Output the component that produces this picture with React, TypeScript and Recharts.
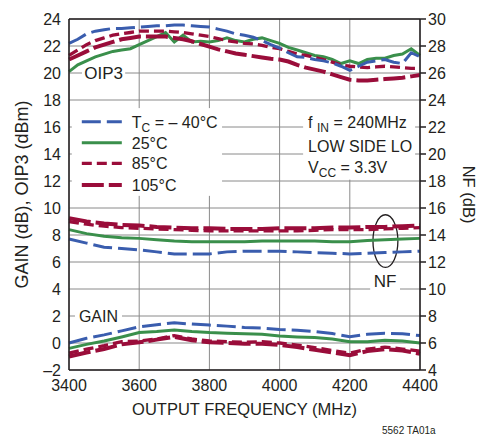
import React from "react";
import {
  ComposedChart,
  Line,
  XAxis,
  YAxis,
  CartesianGrid,
  ReferenceArea,
  ReferenceLine,
  Label,
} from "recharts";

const FONT = "'Liberation Sans', Arial, sans-serif";
const INK = "#231f20";
const BLUE = "#3a5dae";
const GREEN = "#3a8f4b";
const RED = "#9a0d3a";

// OIP3 read at 25 MHz steps
const FREQ_FINE = [
  3400, 3425, 3450, 3475, 3500, 3525, 3550, 3575, 3600, 3625, 3650, 3675, 3700, 3725,
  3750, 3775, 3800, 3825, 3850, 3875, 3900, 3925, 3950, 3975, 4000, 4025, 4050, 4075,
  4100, 4125, 4150, 4175, 4200, 4225, 4250, 4275, 4300, 4325, 4350, 4375, 4400,
];
const OIP3_M40 = [
  22.2, 22.5, 22.9, 23.1, 23.2, 23.3, 23.3, 23.35, 23.4, 23.45, 23.5, 23.5, 23.55, 23.55,
  23.5, 23.45, 23.4, 23.25, 23.1, 22.9, 22.8, 22.65, 22.4, 22.1, 21.85, 21.5, 21.2, 21.15,
  21.0, 20.9, 20.75, 20.5, 20.2, 20.5, 20.8, 20.9, 21.0, 20.8, 20.7, 21.5, 21.2,
];
const OIP3_25 = [
  20.1, 20.6, 20.9, 21.2, 21.4, 21.6, 21.7, 21.8, 22.1, 22.4, 22.7, 23.0, 22.3, 22.8,
  22.3, 22.35, 22.3, 22.4, 22.6, 22.4, 22.3, 22.5, 22.6, 22.4, 22.2, 21.9, 21.7, 21.5,
  21.3, 21.2, 21.0, 20.7, 20.9, 20.7, 21.0, 21.1, 21.1, 21.3, 21.4, 21.8, 21.3,
];
const OIP3_85 = [
  21.3, 21.7, 22.1, 22.4, 22.6, 22.8, 22.9, 23.0, 23.1, 23.1, 23.1, 23.1, 23.05, 23.0,
  22.9, 22.8, 22.7, 22.55, 22.4, 22.3, 22.2, 22.15, 22.05, 21.9, 21.8, 21.6, 21.4, 21.3,
  21.15, 21.0, 20.8, 20.6, 20.5, 20.45, 20.4, 20.45, 20.5, 20.45, 20.4, 20.35, 20.35,
];
const OIP3_105 = [
  21.0, 21.3, 21.6, 21.9, 22.1, 22.3, 22.5, 22.6, 22.7, 22.7, 22.7, 22.7, 22.6, 22.5,
  22.35, 22.15, 21.95, 21.75, 21.6, 21.45, 21.35, 21.25, 21.15, 21.05, 21.0, 20.85, 20.6, 20.4,
  20.25, 20.1, 19.9, 19.7, 19.5, 19.45, 19.45, 19.5, 19.55, 19.6, 19.65, 19.75, 19.85,
];

// NF and gain read at 50 MHz steps
const FREQ = [
  3400, 3450, 3500, 3550, 3600, 3650, 3700, 3750, 3800, 3850, 3900, 3950, 4000, 4050,
  4100, 4150, 4200, 4250, 4300, 4350, 4400,
];
const NF_M40 = [13.7, 13.4, 13.1, 13.0, 12.9, 12.75, 12.6, 12.6, 12.6, 12.75, 12.8, 12.8, 12.8, 12.75, 12.7, 12.65, 12.6, 12.65, 12.7, 12.75, 12.8];
const NF_25 = [14.4, 14.1, 13.9, 13.8, 13.75, 13.65, 13.55, 13.5, 13.5, 13.5, 13.5, 13.55, 13.55, 13.55, 13.55, 13.5, 13.5, 13.6, 13.65, 13.7, 13.75];
const NF_85 = [15.0, 14.8, 14.65, 14.55, 14.5, 14.45, 14.4, 14.35, 14.3, 14.3, 14.3, 14.3, 14.3, 14.3, 14.35, 14.4, 14.4, 14.4, 14.45, 14.5, 14.55];
const NF_105 = [15.25, 15.0, 14.85, 14.75, 14.7, 14.6, 14.55, 14.5, 14.5, 14.45, 14.45, 14.45, 14.5, 14.5, 14.5, 14.55, 14.55, 14.6, 14.6, 14.65, 14.7];
const GAIN_M40 = [0.0, 0.35, 0.6, 0.9, 1.2, 1.35, 1.5, 1.4, 1.33, 1.25, 1.15, 1.1, 1.0, 0.95, 0.85, 0.7, 0.47, 0.65, 0.72, 0.68, 0.55];
const GAIN_25 = [-0.4, -0.1, 0.15, 0.45, 0.77, 0.85, 0.96, 0.85, 0.77, 0.72, 0.68, 0.64, 0.52, 0.45, 0.4, 0.3, 0.1, 0.1, 0.2, 0.15, 0.0];
const GAIN_85 = [-0.75, -0.45, -0.2, 0.1, 0.15, 0.3, 0.55, 0.3, 0.15, 0.1, 0.05, 0.1, 0.0, -0.15, -0.35, -0.55, -0.75, -0.45, -0.3, -0.45, -0.6];
const GAIN_105 = [-1.0, -0.7, -0.45, -0.1, 0.05, 0.25, 0.45, 0.2, 0.05, 0.0, -0.05, -0.05, -0.15, -0.3, -0.5, -0.7, -0.9, -0.6, -0.45, -0.55, -0.8];

const X_TICKS = [3400, 3600, 3800, 4000, 4200, 4400];
const LEFT_TICKS = [-2, 0, 2, 4, 6, 8, 10, 12, 14, 16, 18, 20, 22, 24];
const RIGHT_TICKS = [4, 6, 8, 10, 12, 14, 16, 18, 20, 22, 24, 26, 28, 30];

const oip3Rows = FREQ_FINE.map((f, i) => ({
  f,
  m40: OIP3_M40[i],
  t25: OIP3_25[i],
  t85: OIP3_85[i],
  t105: OIP3_105[i],
}));
const rows = FREQ.map((f, i) => ({
  f,
  nfM40: NF_M40[i],
  nf25: NF_25[i],
  nf85: NF_85[i],
  nf105: NF_105[i],
  gM40: GAIN_M40[i],
  g25: GAIN_25[i],
  g85: GAIN_85[i],
  g105: GAIN_105[i],
}));

const STYLES = {
  m40: { stroke: BLUE, strokeWidth: 3, strokeDasharray: "19 6" },
  t25: { stroke: GREEN, strokeWidth: 3, strokeDasharray: undefined },
  t85: { stroke: RED, strokeWidth: 3.3, strokeDasharray: "10 5" },
  t105: { stroke: RED, strokeWidth: 4, strokeDasharray: "22 5" },
};

const LEGEND = [
  { key: "m40", label: "= – 40°C", sub: true },
  { key: "t25", label: "25°C" },
  { key: "t85", label: "85°C" },
  { key: "t105", label: "105°C" },
];

const LegendBox = (p: any) => {
  const { x, y, width, height } = p;
  const rowY = [13.7, 34.7, 55.3, 77];
  return (
    <g>
      <rect x={x} y={y} width={width} height={height} fill="#fff" />
      {LEGEND.map((it, i) => {
        const s = (STYLES as any)[it.key];
        return (
          <g key={it.key}>
            <line x1={x + 10} x2={x + 50} y1={y + rowY[i]} y2={y + rowY[i]} stroke={s.stroke} strokeWidth={s.strokeWidth} strokeDasharray={s.strokeDasharray} />
            <text x={x + 60} y={y + rowY[i] + 6} fontFamily={FONT} fontSize={16} fill={INK}>
              {it.sub ? (
                <>
                  <tspan>T</tspan>
                  <tspan dy={4} fontSize={12}>C</tspan>
                  <tspan dy={-4}> {it.label}</tspan>
                </>
              ) : (
                it.label
              )}
            </text>
          </g>
        );
      })}
    </g>
  );
};

const InfoBox = (p: any) => {
  const { x, y, width, height } = p;
  return (
    <g fontFamily={FONT} fontSize={16} fill={INK}>
      <rect x={x} y={y} width={width} height={height} fill="#fff" />
      <text x={x + 5} y={y + 19}>
        <tspan>f </tspan>
        <tspan dy={4} fontSize={12}>IN</tspan>
        <tspan dy={-4}> = 240MHz</tspan>
      </text>
      <text x={x + 5} y={y + 42.5}>LOW SIDE LO</text>
      <text x={x + 5} y={y + 63.5}>
        <tspan>V</tspan>
        <tspan dy={4} fontSize={12}>CC</tspan>
        <tspan dy={-4}> = 3.3V</tspan>
      </text>
    </g>
  );
};

const TagBox = (text: string, size: number) => (p: any) => {
  const { x, y, width, height } = p;
  return (
    <g>
      <rect x={x} y={y} width={width} height={height} fill="#fff" />
      <text x={x + width / 2} y={y + height / 2 + size * 0.36} textAnchor="middle" fontFamily={FONT} fontSize={size} fill={INK}>
        {text}
      </text>
    </g>
  );
};

const Ellipse = (p: any) => {
  const { x, y, width, height } = p;
  return <ellipse cx={x + width / 2} cy={y + height / 2} rx={width / 2} ry={height / 2} fill="none" stroke={INK} strokeWidth={1.3} />;
};

const tick = { fill: INK, fontSize: 16, fontFamily: FONT };
const minus = (v: number) => (v < 0 ? "–" + Math.abs(v) : String(v));

export default function App() {
  return (
    <div style={{ position: "absolute", left: 0, top: 0, width: 487, height: 437, background: "#fff" }}>
      <ComposedChart width={487} height={437} margin={{ top: 19, right: 0, bottom: 0, left: 0 }}>
        <CartesianGrid yAxisId="left" stroke="#8a8a8a" strokeWidth={1} />
        <XAxis
          type="number"
          dataKey="f"
          domain={[3400, 4400]}
          ticks={X_TICKS}
          height={67}
          tick={tick}
          tickLine={false}
          tickMargin={4}
          axisLine={{ stroke: INK, strokeWidth: 1.5 }}
          allowDuplicatedCategory={false}
        >
          <Label value="OUTPUT FREQUENCY (MHz)" position="insideTop" offset={33} fill={INK} fontSize={16.5} fontFamily={FONT} />
        </XAxis>
        <YAxis
          yAxisId="left"
          type="number"
          domain={[-2, 24]}
          ticks={LEFT_TICKS}
          tickFormatter={minus}
          width={69}
          tick={tick}
          tickLine={false}
          axisLine={{ stroke: INK, strokeWidth: 1.5 }}
          interval={0}
        >
          <Label value="GAIN (dB), OIP3 (dBm)" angle={-90} position="insideLeft" offset={22} style={{ textAnchor: "middle" }} fill={INK} fontSize={18} fontFamily={FONT} />
        </YAxis>
        <YAxis
          yAxisId="right"
          orientation="right"
          type="number"
          domain={[4, 30]}
          ticks={RIGHT_TICKS}
          width={67}
          tick={tick}
          tickLine={{ stroke: INK, strokeWidth: 1.5 }}
          axisLine={{ stroke: INK, strokeWidth: 1.5 }}
          interval={0}
        >
          <Label value="NF (dB)" angle={90} position="insideRight" offset={18} style={{ textAnchor: "middle" }} fill={INK} fontSize={16.5} fontFamily={FONT} />
        </YAxis>
        <ReferenceLine yAxisId="left" y={24} stroke={INK} strokeWidth={1.5} />

        <ReferenceArea yAxisId="left" x1={3408} x2={3836} y1={10.9} y2={17.4} shape={LegendBox} />
        <ReferenceArea yAxisId="left" x1={4067} x2={4386} y1={12.1} y2={17.3} shape={InfoBox} />
        <ReferenceArea yAxisId="left" x1={3437} x2={3560} y1={19.3} y2={20.7} shape={TagBox("OIP3", 17)} />
        <ReferenceArea yAxisId="left" x1={3417} x2={3551} y1={1.3} y2={2.7} shape={TagBox("GAIN", 16)} />
        <ReferenceArea yAxisId="right" x1={4258} x2={4343} y1={9.9} y2={11.3} shape={TagBox("NF", 17)} />
        <ReferenceArea yAxisId="right" x1={4266} x2={4337} y1={11.6} y2={15.5} shape={Ellipse} />

        {/* NF, right axis */}
        <Line yAxisId="right" data={rows} dataKey="nf25" dot={false} isAnimationActive={false} {...STYLES.t25} />
        <Line yAxisId="right" data={rows} dataKey="nfM40" dot={false} isAnimationActive={false} {...STYLES.m40} />
        <Line yAxisId="right" data={rows} dataKey="nf105" dot={false} isAnimationActive={false} {...STYLES.t105} />
        <Line yAxisId="right" data={rows} dataKey="nf85" dot={false} isAnimationActive={false} {...STYLES.t85} />

        {/* GAIN */}
        <Line yAxisId="left" data={rows} dataKey="g25" dot={false} isAnimationActive={false} {...STYLES.t25} />
        <Line yAxisId="left" data={rows} dataKey="gM40" dot={false} isAnimationActive={false} {...STYLES.m40} />
        <Line yAxisId="left" data={rows} dataKey="g105" dot={false} isAnimationActive={false} {...STYLES.t105} />
        <Line yAxisId="left" data={rows} dataKey="g85" dot={false} isAnimationActive={false} {...STYLES.t85} />

        {/* OIP3 */}
        <Line yAxisId="left" data={oip3Rows} dataKey="t25" dot={false} isAnimationActive={false} {...STYLES.t25} />
        <Line yAxisId="left" data={oip3Rows} dataKey="t105" dot={false} isAnimationActive={false} {...STYLES.t105} />
        <Line yAxisId="left" data={oip3Rows} dataKey="t85" dot={false} isAnimationActive={false} {...STYLES.t85} />
        <Line yAxisId="left" data={oip3Rows} dataKey="m40" dot={false} isAnimationActive={false} {...STYLES.m40} />
      </ComposedChart>
      <div style={{ position: "absolute", left: 382, top: 426, fontFamily: FONT, fontSize: 10, color: INK, lineHeight: "10px", whiteSpace: "nowrap" }}>
        5562 TA01a
      </div>
    </div>
  );
}
